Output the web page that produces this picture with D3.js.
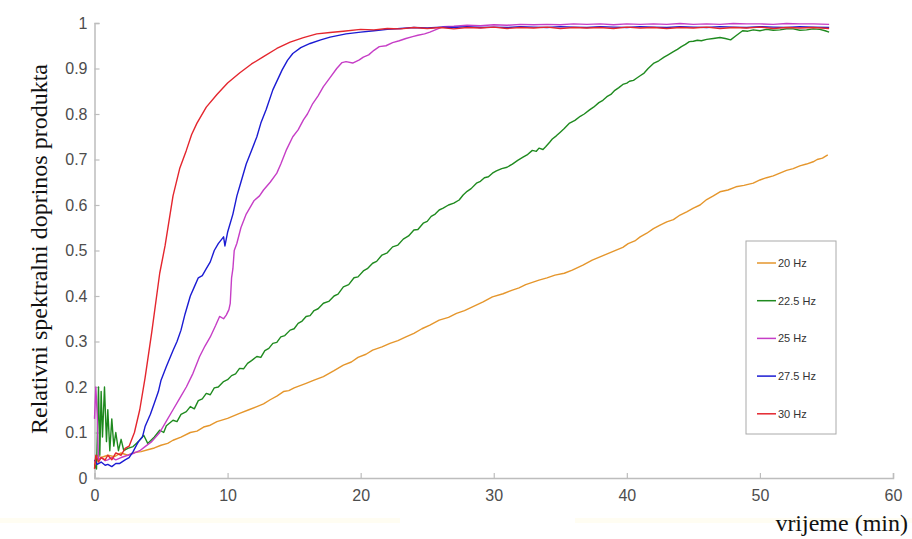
<!DOCTYPE html>
<html>
<head>
<meta charset="utf-8">
<script src="https://cdn.jsdelivr.net/npm/d3@7"></script>
<style>
  body { margin: 0; background: #fff; }
  svg { display: block; }
</style>
</head>
<body>
<div id="graf"></div>
<script>
// legend labels and colours
var labels = ["20 Hz", "22.5 Hz", "25 Hz", "27.5 Hz", "30 Hz"];
var colors = ["#E5962C", "#1F8A1F", "#C63EC6", "#1B1BD3", "#E4262E"];

var xTicks = [0, 10, 20, 30, 40, 50, 60];
var yTicks = [0, 0.1, 0.2, 0.3, 0.4, 0.5, 0.6, 0.7, 0.8, 0.9, 1];

// [vrijeme (min), doprinos]
var hz20 = [[0,0.03],[0.2,0.05],[0.5,0.045],[1.0,0.05],[1.5,0.047],[2.0,0.055],[2.5,0.05],[3.0,0.056],
  [3.5,0.058],[4.0,0.062],[4.5,0.066],[5.0,0.072],[5.5,0.076],[5.9,0.083],[6.5,0.09],[7.2,0.1],[7.7,0.103],
  [8.2,0.112],[8.7,0.116],[9.2,0.124],[10.0,0.131],[10.9,0.142],[11.6,0.15],[12.2,0.157],[12.7,0.163],
  [13.2,0.172],[13.7,0.18],[14.2,0.19],[14.6,0.192],[15.0,0.198],[15.9,0.208],[16.5,0.215],[17.2,0.223],
  [18.0,0.236],[18.7,0.248],[19.3,0.255],[19.8,0.265],[20.4,0.272],[20.9,0.281],[21.6,0.288],[22.2,0.296],
  [22.8,0.302],[23.4,0.31],[24.0,0.318],[24.6,0.328],[25.2,0.336],[25.9,0.347],[26.6,0.353],[27.2,0.362],
  [27.8,0.368],[28.4,0.376],[29.2,0.387],[29.9,0.398],[30.7,0.405],[31.4,0.413],[31.9,0.418],[32.4,0.425],
  [32.9,0.43],[33.4,0.435],[34.0,0.44],[34.6,0.446],[35.3,0.45],[35.9,0.457],[36.7,0.468],[37.4,0.479],
  [38.3,0.49],[39.2,0.501],[39.7,0.507],[40.1,0.515],[40.6,0.521],[41.0,0.53],[41.5,0.538],[42.0,0.548],
  [42.5,0.556],[43.0,0.563],[43.5,0.568],[44.0,0.578],[44.5,0.585],[45.0,0.593],[45.5,0.6],[46.0,0.612],
  [46.5,0.62],[47.0,0.629],[47.6,0.633],[48.2,0.64],[48.8,0.643],[49.5,0.648],[50.0,0.655],[50.5,0.66],
  [51.0,0.664],[51.5,0.67],[52.0,0.676],[52.5,0.68],[53.0,0.686],[53.5,0.69],[54.0,0.695],[54.3,0.7],
  [54.7,0.703],[55.1,0.71]];

var hz22 = [[0,0.03],[0.15,0.02],[0.3,0.2],[0.4,0.05],[0.5,0.19],[0.6,0.09],[0.75,0.2],[0.9,0.08],[1.0,0.15],
  [1.15,0.06],[1.3,0.13],[1.45,0.07],[1.6,0.1],[1.8,0.06],[2.0,0.085],[2.2,0.06],[2.5,0.065],[2.9,0.069],
  [3.3,0.08],[3.7,0.094],[4.0,0.076],[4.5,0.09],[4.9,0.105],[5.2,0.1],[5.4,0.115],[5.9,0.127],[6.2,0.124],
  [6.5,0.14],[6.9,0.146],[7.2,0.157],[7.5,0.152],[7.8,0.17],[8.1,0.174],[8.4,0.186],[8.7,0.183],[9.0,0.198],
  [9.3,0.2],[9.7,0.212],[10.0,0.216],[10.3,0.225],[10.6,0.229],[10.9,0.241],[11.2,0.24],[11.5,0.252],
  [11.8,0.258],[12.2,0.267],[12.5,0.265],[12.8,0.28],[13.1,0.285],[13.4,0.296],[13.7,0.298],[14.0,0.31],
  [14.3,0.313],[14.7,0.325],[15.0,0.328],[15.3,0.34],[15.6,0.345],[15.9,0.355],[16.2,0.357],[16.5,0.368],
  [16.8,0.372],[17.2,0.384],[17.6,0.388],[18.0,0.4],[18.3,0.404],[18.7,0.42],[19.1,0.425],[19.5,0.44],
  [19.8,0.442],[20.2,0.455],[20.5,0.46],[20.9,0.472],[21.2,0.476],[21.6,0.49],[22.0,0.495],[22.4,0.508],
  [22.8,0.512],[23.2,0.525],[23.6,0.532],[24.0,0.545],[24.3,0.546],[24.7,0.56],[25.0,0.564],[25.3,0.575],
  [25.6,0.58],[25.9,0.589],[26.2,0.593],[26.6,0.6],[27.0,0.604],[27.4,0.611],[27.7,0.622],[28.0,0.63],
  [28.3,0.636],[28.7,0.648],[29.0,0.652],[29.3,0.66],[29.6,0.662],[29.9,0.67],[30.2,0.675],[30.6,0.68],
  [31.0,0.683],[31.4,0.69],[31.8,0.698],[32.2,0.705],[32.5,0.71],[32.9,0.72],[33.2,0.718],[33.4,0.725],
  [33.7,0.722],[33.9,0.728],[34.2,0.738],[34.4,0.745],[34.7,0.752],[35.0,0.76],[35.3,0.768],[35.7,0.78],
  [36.1,0.786],[36.5,0.795],[36.8,0.8],[37.2,0.809],[37.5,0.815],[37.9,0.825],[38.2,0.83],[38.5,0.838],
  [38.8,0.843],[39.1,0.852],[39.4,0.858],[39.7,0.865],[40.0,0.868],[40.2,0.872],[40.5,0.874],[40.7,0.878],
  [41.0,0.884],[41.3,0.89],[41.6,0.9],[42.0,0.911],[42.4,0.917],[42.8,0.925],[43.1,0.93],[43.5,0.937],
  [43.8,0.942],[44.1,0.948],[44.4,0.953],[44.7,0.959],[45.0,0.96],[45.3,0.962],[45.6,0.961],[46.0,0.964],
  [46.5,0.966],[47.0,0.968],[47.4,0.966],[47.8,0.963],[48.2,0.972],[48.7,0.983],[49.1,0.982],[49.5,0.985],
  [50.0,0.983],[50.5,0.986],[51.0,0.984],[51.5,0.985],[52.0,0.987],[52.5,0.987],[53.0,0.984],[53.5,0.985],
  [54.0,0.987],[54.5,0.986],[54.9,0.983],[55.2,0.98]];

var hz25 = [[0,0.13],[0.1,0.2],[0.2,0.14],[0.3,0.04],[0.5,0.045],[0.8,0.038],[1.0,0.04],[1.3,0.045],
  [1.6,0.04],[2.0,0.045],[2.5,0.05],[3.0,0.055],[3.4,0.06],[3.8,0.069],[4.3,0.08],[4.9,0.1],[5.4,0.125],
  [5.9,0.15],[6.4,0.175],[6.9,0.2],[7.4,0.23],[7.9,0.267],[8.3,0.29],[8.7,0.31],[9.1,0.335],[9.4,0.355],
  [9.7,0.35],[9.9,0.358],[10.1,0.37],[10.2,0.384],[10.3,0.44],[10.4,0.46],[10.5,0.5],[10.7,0.516],
  [11.0,0.55],[11.4,0.58],[12.0,0.61],[12.4,0.62],[12.7,0.633],[13.2,0.65],[13.7,0.67],[14.0,0.69],
  [14.4,0.72],[14.9,0.75],[15.3,0.765],[15.7,0.787],[16.0,0.8],[16.4,0.823],[16.8,0.84],[17.2,0.86],
  [17.7,0.88],[18.2,0.9],[18.6,0.913],[18.9,0.915],[19.4,0.912],[19.9,0.919],[20.2,0.925],[20.6,0.93],
  [21.0,0.94],[21.4,0.948],[21.9,0.95],[22.4,0.957],[22.9,0.961],[23.4,0.966],[23.9,0.97],[24.3,0.973],
  [24.8,0.976],[25.2,0.98],[25.7,0.986],[26.2,0.992],[27.0,0.993],[28.0,0.995],[29.0,0.994],[30.0,0.996],
  [31.0,0.995],[32.0,0.997],[33.0,0.996],[34.0,0.997],[35.0,0.996],[36.0,0.998],[37.0,0.997],[38.0,0.998],
  [39.0,0.996],[40.0,0.998],[41.0,0.997],[42.0,0.998],[43.0,0.997],[44.0,0.999],[45.0,0.997],[46.0,0.998],
  [47.0,0.997],[48.0,0.999],[49.0,0.998],[50.0,0.998],[51.0,0.997],[52.0,0.999],[53.0,0.998],[54.0,0.998],
  [55.2,0.997]];

var hz27 = [[0,0.04],[0.2,0.03],[0.5,0.035],[0.8,0.028],[1.0,0.03],[1.3,0.025],[1.6,0.032],[1.9,0.032],
  [2.3,0.04],[2.6,0.045],[2.9,0.058],[3.3,0.08],[3.6,0.09],[3.8,0.113],[4.2,0.14],[4.5,0.165],[4.8,0.19],
  [5.0,0.215],[5.4,0.245],[5.9,0.28],[6.2,0.3],[6.5,0.325],[6.8,0.36],[7.2,0.4],[7.5,0.42],[7.8,0.44],
  [8.1,0.445],[8.4,0.46],[8.7,0.475],[9.0,0.5],[9.3,0.515],[9.7,0.53],[9.8,0.51],[10.0,0.54],[10.4,0.58],
  [10.7,0.62],[11.0,0.65],[11.4,0.69],[11.8,0.72],[12.2,0.75],[12.5,0.78],[12.9,0.81],[13.4,0.853],
  [14.1,0.897],[14.5,0.918],[14.9,0.933],[15.5,0.946],[16.2,0.955],[17.0,0.963],[17.7,0.969],[18.9,0.976],
  [20.0,0.98],[21.0,0.983],[22.0,0.986],[23.0,0.988],[24.0,0.99],[25.0,0.989],[26.0,0.991],[27.0,0.99],
  [28.0,0.992],[29.0,0.99],[30.0,0.991],[31.0,0.99],[32.0,0.992],[33.0,0.991],[34.0,0.99],[35.0,0.992],
  [36.0,0.991],[37.0,0.99],[38.0,0.992],[39.0,0.991],[40.0,0.99],[41.0,0.992],[42.0,0.991],[43.0,0.99],
  [44.0,0.992],[45.0,0.991],[46.0,0.99],[47.0,0.992],[48.0,0.991],[49.0,0.99],[50.0,0.992],[51.0,0.991],
  [52.0,0.99],[53.0,0.992],[54.0,0.991],[55.2,0.99]];

var hz30 = [[0,0.02],[0.1,0.05],[0.3,0.035],[0.5,0.045],[0.8,0.04],[1.0,0.05],[1.3,0.04],[1.6,0.055],
  [2.0,0.05],[2.3,0.065],[2.6,0.07],[3.0,0.1],[3.4,0.15],[3.8,0.22],[4.3,0.32],[4.9,0.45],[5.3,0.51],
  [5.9,0.62],[6.4,0.68],[6.9,0.72],[7.3,0.755],[7.7,0.78],[8.4,0.815],[9.2,0.843],[10.0,0.868],[10.9,0.89],
  [11.8,0.91],[12.7,0.926],[13.7,0.944],[14.7,0.958],[15.7,0.968],[16.7,0.976],[17.7,0.979],[18.7,0.982],
  [20.0,0.986],[21.0,0.985],[22.0,0.988],[23.0,0.987],[24.0,0.99],[25.0,0.988],[26.0,0.99],[27.0,0.987],
  [28.0,0.99],[29.0,0.989],[30.0,0.991],[31.0,0.988],[32.0,0.99],[33.0,0.989],[34.0,0.991],[35.0,0.988],
  [36.0,0.99],[37.0,0.989],[38.0,0.99],[39.0,0.988],[40.0,0.991],[41.0,0.989],[42.0,0.99],[43.0,0.988],
  [44.0,0.99],[45.0,0.989],[46.0,0.991],[47.0,0.988],[48.0,0.99],[49.0,0.989],[50.0,0.991],[51.0,0.988],
  [52.0,0.99],[53.0,0.989],[54.0,0.99],[55.2,0.988]];

var series = [hz20, hz22, hz25, hz27, hz30];

var width = 912, height = 539;

var svg = d3.select("#graf")
    .append("svg")
    .attr("width", width)
    .attr("height", height);

// faint scan strips at the bottom of the original
svg.append("rect").attr("x", 0).attr("y", 518).attr("width", 400).attr("height", 5).attr("fill", "#fffdf2");
svg.append("rect").attr("x", 575).attr("y", 518).attr("width", 337).attr("height", 5).attr("fill", "#fffdf2");

var x = d3.scaleLinear().domain([0, 60]).range([94.5, 893]);
var y = d3.scaleLinear().domain([0, 1]).range([478, 23]);

var axisColor = "#bdbdbd";
var tickText = "#4d4d4d";

var gx = svg.append("g")
    .attr("transform", "translate(0," + y(0) + ")")
    .call(d3.axisBottom(x).tickValues(xTicks).tickSize(-5).tickPadding(12).tickFormat(d3.format("d")));

var gy = svg.append("g")
    .attr("transform", "translate(" + x(0) + ",0)")
    .call(d3.axisLeft(y).tickValues(yTicks).tickSize(-5).tickPadding(7).tickFormat(function(d){
        return d === 0 || d === 1 ? d : d.toFixed(1);
    }));

[gx, gy].forEach(function(g){
    g.select(".domain").attr("stroke", axisColor).attr("stroke-width", 1.5);
    g.selectAll(".tick line").attr("stroke", axisColor).attr("stroke-width", 1.2);
    g.selectAll(".tick text")
        .attr("fill", tickText)
        .attr("font-family", "Liberation Sans, Arial, sans-serif")
        .attr("font-size", 16);
});

var line = d3.line()
    .x(function(d){ return x(d[0]); })
    .y(function(d){ return y(d[1]); });

svg.append("g").selectAll("path")
    .data(series)
    .enter()
    .append("path")
    .attr("d", line)
    .attr("fill", "none")
    .attr("stroke", function(d, i){ return colors[i]; })
    .attr("stroke-width", 1.4)
    .attr("stroke-linejoin", "round");

// axis titles
svg.append("text")
    .attr("transform", "translate(47,249) rotate(-90)")
    .attr("text-anchor", "middle")
    .attr("font-family", "Liberation Serif, Times New Roman, serif")
    .attr("font-size", 24)
    .attr("fill", "#111")
    .text("Relativni spektralni doprinos produkta");

svg.append("text")
    .attr("x", 908)
    .attr("y", 531)
    .attr("text-anchor", "end")
    .attr("font-family", "Liberation Serif, Times New Roman, serif")
    .attr("font-size", 24)
    .attr("fill", "#111")
    .text("vrijeme (min)");

// legenda
var leg = svg.append("g");
leg.append("rect")
    .attr("x", 746).attr("y", 241)
    .attr("width", 90).attr("height", 193)
    .attr("fill", "#fff")
    .attr("stroke", "#aaa");

var item = leg.selectAll(".item")
    .data(labels)
    .enter()
    .append("g")
    .attr("class", "item")
    .attr("transform", function(d, i){ return "translate(0," + (263 + i * 37.7) + ")"; });

item.append("line")
    .attr("x1", 757).attr("x2", 776)
    .attr("stroke", function(d, i){ return colors[i]; })
    .attr("stroke-width", 1.5);

item.append("text")
    .attr("x", 778)
    .attr("dy", "0.35em")
    .attr("font-family", "Liberation Sans, Arial, sans-serif")
    .attr("font-size", 11)
    .attr("fill", "#333")
    .text(function(d){ return d; });
</script>
</body>
</html>
